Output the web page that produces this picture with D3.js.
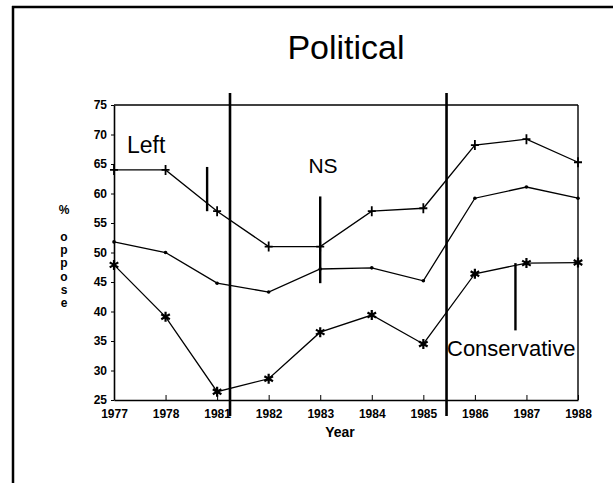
<!DOCTYPE html>
<html>
<head>
<meta charset="utf-8">
<script src="https://cdn.jsdelivr.net/npm/d3@7"></script>
<style>
  body { margin: 0; background: #fff; }
  svg { display: block; font-family: "Liberation Sans", Arial, sans-serif; }
  .tick text { font-weight: bold; font-size: 12px; fill: #000; }
</style>
</head>
<body>
<svg id="chart" width="613" height="483"></svg>
<script>
// years along the x axis
var years = ["1977", "1978", "1981", "1982", "1983", "1984", "1985", "1986", "1987", "1988"];
// y ticks
var yTicks = [25, 30, 35, 40, 45, 50, 55, 60, 65, 70, 75];
// % oppose, three series
var topSeries = [64, 64, 57, 51, 51, 57, 57.5, 68.2, 69.2, 65.3];    // "+" markers
var midSeries = [51.8, 50, 44.8, 43.3, 47.2, 47.4, 45.2, 59.2, 61.1, 59.2]; // dots
var lowSeries = [47.9, 39.1, 26.4, 28.6, 36.5, 39.4, 34.5, 46.4, 48.2, 48.3]; // "*" markers
// period dividers sit between these years
var dividers = [["1981", "1982", 0.25], ["1985", "1986", 0.45]];
// annotations: label, year, line top, line bottom (data values)
var annotations = [
    {name: "Left", year: "1981", from: 64.5, to: 57, lineOffset: -10},
    {name: "NS", year: "1983", from: 59.5, to: 44.8, lineOffset: 0},
    {name: "Conservative", year: "1987", from: 48.2, to: 36.8, lineOffset: -11}
];

var svg = d3.select("#chart");

var x = d3.scalePoint()
    .domain(years)
    .range([114, 578]);

var y = d3.scaleLinear()
    .domain([25, 75])
    .range([400, 105]);

// Outer frame of the scanned page (left + top)
svg.append("line")
    .attr("x1", 13).attr("x2", 13).attr("y1", 6).attr("y2", 483)
    .attr("stroke", "#000").attr("stroke-width", 2.5);
svg.append("line")
    .attr("x1", 12).attr("x2", 613).attr("y1", 7).attr("y2", 7)
    .attr("stroke", "#000").attr("stroke-width", 2.5);

// Title
svg.append("text")
    .attr("x", 346).attr("y", 59)
    .attr("text-anchor", "middle")
    .attr("font-size", "34px")
    .text("Political");

// Axes
svg.append("g")
    .attr("transform", "translate(0,400)")
    .call(d3.axisBottom(x).tickSizeInner(-5).tickSizeOuter(0).tickPadding(9))
    .call(function (g) { g.select(".domain").attr("stroke-width", 1.6); });

svg.append("g")
    .attr("transform", "translate(114,0)")
    .call(d3.axisLeft(y).tickValues(yTicks).tickSizeInner(3).tickSizeOuter(0).tickPadding(4))
    .call(function (g) { g.select(".domain").attr("stroke-width", 1.6); });

// top and right frame of the plot
svg.append("line")
    .attr("x1", x.range()[0]).attr("x2", x.range()[1])
    .attr("y1", y(75)).attr("y2", y(75))
    .attr("stroke", "#000").attr("stroke-width", 1.4);
svg.append("line")
    .attr("x1", x.range()[1]).attr("x2", x.range()[1])
    .attr("y1", y(75)).attr("y2", y(25))
    .attr("stroke", "#000").attr("stroke-width", 1.4);

// Axis titles
svg.append("text")
    .attr("x", 340).attr("y", 437)
    .attr("text-anchor", "middle")
    .attr("font-weight", "bold")
    .attr("font-size", "14px")
    .text("Year");

svg.append("g")
    .selectAll("text")
    .data("% oppose".split(""))
    .enter().append("text")
    .attr("x", 64)
    .attr("y", function (d, i) { return 214 + i * 13.3; })
    .attr("text-anchor", "middle")
    .attr("font-weight", "bold")
    .attr("font-size", "12px")
    .text(function (d) { return d; });

// Period dividers
dividers.forEach(function (d) {
    var px = x(d[0]) + (x(d[1]) - x(d[0])) * d[2];
    svg.append("line")
        .attr("x1", px).attr("x2", px)
        .attr("y1", 93).attr("y2", 416)
        .attr("stroke", "#000").attr("stroke-width", 2.6);
});

// Lines
var line = d3.line()
    .x(function (d, i) { return x(years[i]); })
    .y(function (d) { return y(d); });

[topSeries, midSeries, lowSeries].forEach(function (s) {
    svg.append("path")
        .datum(s)
        .attr("d", line)
        .attr("fill", "none")
        .attr("stroke", "#000")
        .attr("stroke-width", 1.3);
});

// Markers
svg.append("g").selectAll("path")
    .data(topSeries)
    .enter().append("path")
    .attr("transform", function (d, i) { return "translate(" + x(years[i]) + "," + y(d) + ")"; })
    .attr("d", "M-4,0H4M0,-5V5")
    .attr("stroke", "#000").attr("stroke-width", 1.8);

svg.append("g").selectAll("circle")
    .data(midSeries)
    .enter().append("circle")
    .attr("cx", function (d, i) { return x(years[i]); })
    .attr("cy", function (d) { return y(d); })
    .attr("r", 1.8)
    .attr("fill", "#000");

svg.append("g").selectAll("path")
    .data(lowSeries)
    .enter().append("path")
    .attr("transform", function (d, i) { return "translate(" + x(years[i]) + "," + y(d) + ")"; })
    .attr("d", "M0,-5V5M-4.3,-2.5L4.3,2.5M-4.3,2.5L4.3,-2.5")
    .attr("stroke", "#000").attr("stroke-width", 2.2);

// Annotations
annotations.forEach(function (a) {
    var px = x(a.year) + a.lineOffset;
    svg.append("line")
        .attr("x1", px).attr("x2", px)
        .attr("y1", y(a.from)).attr("y2", y(a.to))
        .attr("stroke", "#000").attr("stroke-width", 2.4);
});

svg.append("text").attr("x", 127).attr("y", 153)
    .attr("font-size", "23px").text("Left");
svg.append("text").attr("x", 323).attr("y", 173)
    .attr("text-anchor", "middle")
    .attr("font-size", "21px").text("NS");
svg.append("text").attr("x", 447).attr("y", 356)
    .attr("font-size", "22px").text("Conservative");
</script>
</body>
</html>
